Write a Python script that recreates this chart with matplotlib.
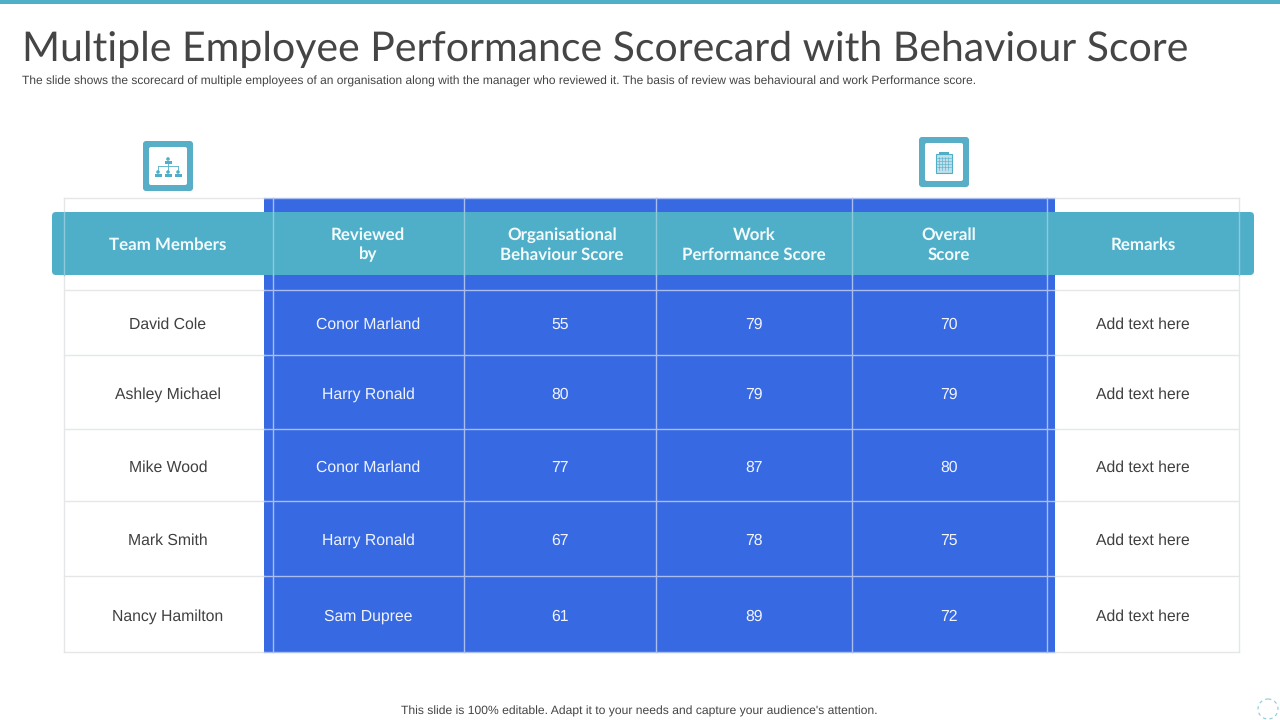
import matplotlib
matplotlib.use("Agg")
import matplotlib.pyplot as plt
from matplotlib.patches import Rectangle, FancyBboxPatch, Circle

plt.rcParams["text.hinting"] = "no_hinting"

title = "Multiple Employee Performance Scorecard with Behaviour Score"
subtitle = ("The slide shows the scorecard of multiple employees of an organisation along with the manager "
            "who reviewed it. The basis of review was behavioural and work Performance score.")
footer = "This slide is 100% editable. Adapt it to your needs and capture your audience's attention."

headers = ["Team Members", "Reviewed\nby", "Organisational\nBehaviour Score",
           "Work\nPerformance Score", "Overall\nScore", "Remarks"]
members = ["David Cole", "Ashley Michael", "Mike Wood", "Mark Smith", "Nancy Hamilton"]
reviewers = ["Conor Marland", "Harry Ronald", "Conor Marland", "Harry Ronald", "Sam Dupree"]
behaviour = [55, 80, 77, 67, 61]
work = [79, 79, 87, 78, 89]
overall = [70, 79, 80, 75, 72]
remarks = ["Add text here"] * 5

TEAL = "#50AFC8"
BLUE = "#3769E2"
GRID = "#E4E6E8"
GRID_BLUE = "#A9BEEE"

col_x = [64, 273, 464, 656, 852, 1047, 1239]
row_y = [198, 290, 355, 429, 501, 576, 652]
text_x = [168, 368, 560, 754, 949, 1143]
text_y = [323, 393, 466, 539, 615]
head_x = [168, 368, 562, 754, 949, 1143]

fig = plt.figure(figsize=(12.8, 7.2), dpi=100)
ax = fig.add_axes([0, 0, 1, 1])
ax.set_xlim(0, 1280)
ax.set_ylim(720, 0)
ax.axis("off")

# top strip
ax.add_patch(Rectangle((0, 0), 1280, 4, color=TEAL, lw=0))

ax.text(22, 46, title, fontsize=29.5, family="Lato", color="#454545", va="center_baseline", ha="left")
ax.text(22, 81, subtitle, fontsize=8.62, family="Liberation Sans", color="#444444", va="center", ha="left")
ax.text(639, 711, footer, fontsize=8.7, family="Liberation Sans", color="#444444", va="center", ha="center")

# blue block behind the middle columns
ax.add_patch(Rectangle((264, 198), 791, 454, color=BLUE, lw=0, zorder=1))

# grid
for x in col_x:
    inside = 264 < x < 1055
    ax.plot([x, x], [198, 652], color=GRID_BLUE if inside else GRID, lw=1.0, zorder=2)
for y in row_y:
    ax.plot([64, 264], [y, y], color=GRID, lw=1.0, zorder=2)
    ax.plot([264, 1055], [y, y], color=GRID_BLUE, lw=1.0, zorder=2)
    ax.plot([1055, 1239], [y, y], color=GRID, lw=1.0, zorder=2)

# header band
ax.add_patch(FancyBboxPatch((52, 212), 1202, 63, boxstyle="round,pad=0,rounding_size=4",
                            fc=TEAL, ec="none", lw=0, zorder=3))
for x in col_x:
    ax.plot([x, x], [212, 275], color="#8CCBDB", lw=1.0, zorder=4)
for x, h in zip(head_x, headers):
    ax.text(x, 245, h, fontsize=12.2, family="Lato", weight="bold", color="#F2FAFC",
            ha="center", va="center", linespacing=1.3, zorder=5)

# table body
columns = [members, reviewers, behaviour, work, overall, remarks]
for i, (x, col) in enumerate(zip(text_x, columns)):
    for y, val in zip(text_y, col):
        on_blue = 1 <= i <= 4
        ax.text(x, y, str(val), fontsize=11.3, family="Liberation Sans",
                color="#F0F4FD" if on_blue else "#404040", ha="center", va="center_baseline", zorder=5)


def icon_frame(x, y):
    ax.add_patch(FancyBboxPatch((x, y), 50, 50, boxstyle="round,pad=0,rounding_size=3",
                                fc="#58AEC6", ec="none", lw=0, zorder=3))
    ax.add_patch(FancyBboxPatch((x + 6, y + 6), 38, 38, boxstyle="round,pad=0,rounding_size=2",
                                fc="white", ec="none", lw=0, zorder=4))


# org chart icon
icon_frame(143, 141)
for px, py in [(168, 159), (158, 172), (168, 172), (178, 172)]:
    ax.add_patch(Circle((px, py), 1.8, fc=TEAL, ec="none", zorder=5))
    ax.add_patch(Rectangle((px - 3.5, py + 2), 7, 2.5, fc=TEAL, ec="none", zorder=5))
ax.plot([168, 168], [163, 170], color=TEAL, lw=0.6, zorder=5)
ax.plot([158, 178], [166, 166], color=TEAL, lw=0.6, zorder=5)
ax.plot([158, 158], [166, 170], color=TEAL, lw=0.6, zorder=5)
ax.plot([178, 178], [166, 170], color=TEAL, lw=0.6, zorder=5)

# clipboard icon
icon_frame(919, 137)
ax.add_patch(Rectangle((936, 154), 16, 19, fc="#BFE0EA", ec=TEAL, lw=0.8, zorder=5))
ax.add_patch(Rectangle((939, 152), 10, 2.5, fc=TEAL, ec="none", zorder=6))
for gx in [939, 942, 945, 948]:
    ax.plot([gx, gx], [157, 170], color=TEAL, lw=0.4, zorder=6)
for gy in [158, 161, 164, 167]:
    ax.plot([937, 951], [gy, gy], color=TEAL, lw=0.4, zorder=6)

# loading ring, bottom right
ax.add_patch(Circle((1268, 709), 10, fc="none", ec="#8CCAD9", lw=0.8, ls=(0, (3, 3)), zorder=5))

fig.savefig("out.png", dpi=100)
